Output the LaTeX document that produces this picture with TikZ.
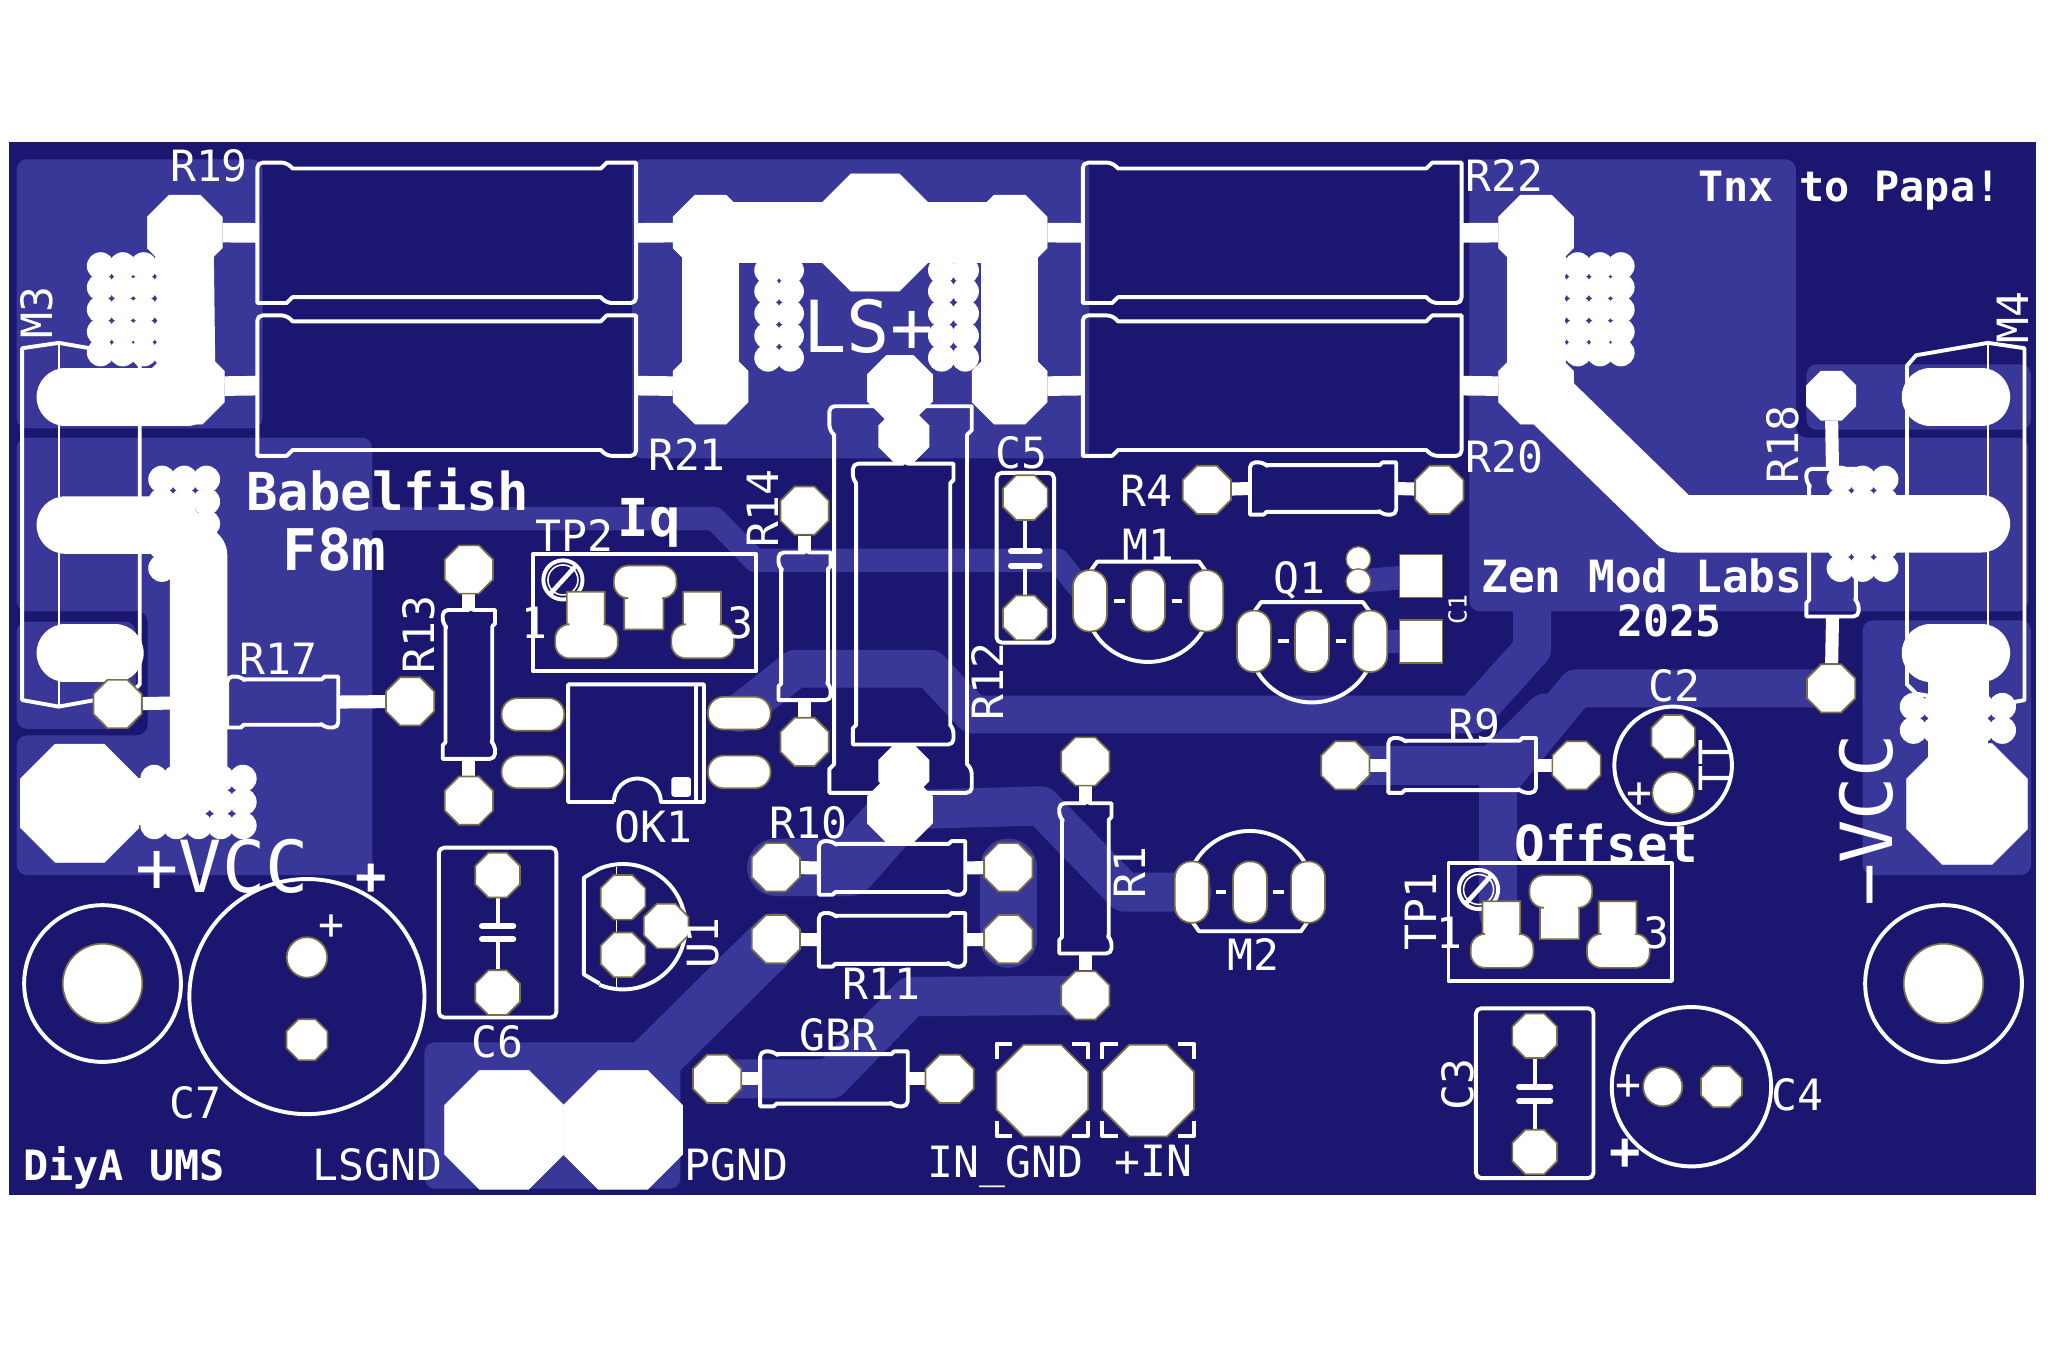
\documentclass[tikz,border=0pt]{standalone}
\usepackage{fontspec}
\setmainfont{DejaVu Sans Mono}
\usetikzlibrary{shapes.geometric}
\definecolor{brd}{RGB}{27,23,112}
\definecolor{cu}{RGB}{57,56,153}
\definecolor{padol}{RGB}{122,111,70}
\pgfdeclarelayer{board}
\pgfdeclarelayer{copper}
\pgfdeclarelayer{silklayer}
\pgfsetlayers{board,copper,silklayer,main}
\newcommand{\fsz}[1]{\fontsize{#1}{#1}\selectfont}
\tikzset{
	silk/.style={draw=white,line width=3pt,line join=round},
	thinsilk/.style={draw=white,line width=1.2pt},
	plate/.style={draw=white,line width=4.5pt,line cap=round},
	lead/.style={draw=white,line width=10pt},
	biglead/.style={draw=white,line width=15pt},
	wcu/.style={draw=white,line width=44pt,line join=round,line cap=round},
	trace/.style={draw=cu,line join=round,line cap=round},
	pad/.style={regular polygon,regular polygon sides=8,minimum size=#1,inner sep=0pt,fill=white,draw=padol,line width=1.3pt},
	pad/.default=40pt,
	wpad/.style={regular polygon,regular polygon sides=8,minimum size=#1,inner sep=0pt,fill=white,draw=white,line width=.5pt},
	wpad/.default=62pt,
	hole/.style={circle,minimum size=#1,inner sep=0pt,fill=white,draw=padol,line width=1.3pt},
	ovalv/.style={rectangle,rounded corners=12.5pt,minimum width=26pt,minimum height=47pt,inner sep=0pt,fill=white,draw=padol,line width=1.3pt},
	ovalh/.style={rectangle,rounded corners=12pt,minimum width=48pt,minimum height=25pt,inner sep=0pt,fill=white,draw=padol,line width=1.3pt},
	smd/.style={rectangle,minimum size=33pt,inner sep=0pt,fill=white,draw=padol,line width=1.3pt},
	lbl/.style={font=\fsz{33},text=white,inner sep=0pt},
	bigl/.style={font=\fsz{55},text=white,inner sep=0pt},
	boldl/.style={font=\fsz{#1}\bfseries,text=white,inner sep=0pt},
	boldl/.default=33
}
% resistor bodies: [cap]{name}{x1}{x2}{y1}{y2}
\newcommand{\hres}[6][12.6]{%
	\pgfmathsetmacro{\rins}{#1/6}
	\draw[silk] (#3,#5/2+#6/2) [rounded corners=4pt] -- (#3,#5) -- (#3+#1-\rins,#5) [sharp corners] -- (#3+#1,#5+\rins) -- (#4-#1,#5+\rins) -- (#4-#1+\rins,#5) -- (#4,#5)
		[rounded corners=4pt] -- (#4,#6) -- (#4-#1+\rins,#6) [sharp corners] -- (#4-#1,#6-\rins) -- (#3+#1,#6-\rins) -- (#3+#1-\rins,#6) -- (#3,#6) [rounded corners=4pt] -- (#3,#5/2+#6/2) [sharp corners] -- cycle;
	\coordinate (#2-l) at (#3,#5/2+#6/2);
	\coordinate (#2-r) at (#4,#5/2+#6/2);
}
\newcommand{\vres}[6][12.6]{%
	\pgfmathsetmacro{\rins}{#1/6}
	\draw[silk] (#3/2+#4/2,#5) [rounded corners=4pt] -- (#3,#5) -- (#3,#5+#1-\rins) [sharp corners] -- (#3+\rins,#5+#1) -- (#3+\rins,#6-#1) -- (#3,#6-#1+\rins) -- (#3,#6)
		[rounded corners=4pt] -- (#4,#6) -- (#4,#6-#1+\rins) [sharp corners] -- (#4-\rins,#6-#1) -- (#4-\rins,#5+#1) -- (#4,#5+#1-\rins) -- (#4,#5) [rounded corners=4pt] -- (#3/2+#4/2,#5) [sharp corners] -- cycle;
	\coordinate (#2-t) at (#3/2+#4/2,#5);
	\coordinate (#2-b) at (#3/2+#4/2,#6);
}
% three pin transistor: {name}{x}{y}{flip}
\newcommand{\tofet}[4]{%
	\node[ovalv] (#1a) at (#2-44.5,#3) {};
	\node[ovalv] (#1b) at (#2,#3) {};
	\node[ovalv] (#1c) at (#2+44.5,#3) {};
	\begin{pgfonlayer}{silklayer}
	\begin{scope}[shift={(#2,#3)},yscale=#4]
		\draw[silk] (-42,23) arc[start angle=210.8,end angle=329.2,radius=48.75pt];
		\draw[silk] (-44,-23) -- (-39,-30) -- (39,-30) -- (44,-23);
		\draw[silk] (-26,0) -- (-18,0);
		\draw[silk] (18,0) -- (26,0);
	\end{scope}
	\end{pgfonlayer}
}
% trimmer: {x}{y} of the box corner
\newcommand{\trimmer}[2]{%
	\begin{scope}[shift={(#1,#2)}]
		\draw[silk] (0,0) rectangle (171,90);
		\draw[silk] (23,20) circle[radius=15pt];
		\draw[thinsilk] (23,20) circle[radius=11.5pt];
		\draw[silk,line width=3.5pt] (13,31) -- (33,9);
		\foreach \px in {17,106}{
			\draw[fill=white,draw=padol,line width=1.3pt] (\px+9,29) -- (\px+38,29) -- (\px+38,54) [rounded corners=11pt] -- (\px+48,54) -- (\px+48,80) -- (\px,80) -- (\px,54) [sharp corners] -- (\px+9,54) -- cycle;
		}
		\draw[fill=white,draw=padol,line width=1.3pt] (70,58) -- (100,58) -- (100,34) [rounded corners=11pt] -- (110,34) -- (110,9) -- (62,9) -- (62,34) [sharp corners] -- (70,34) -- cycle;
	\end{scope}
}
\newcommand{\brk}[4]{%
	\draw[silk] (#1,#2+12) -- (#1,#2) -- (#1+12,#2);
	\draw[silk] (#3-12,#2) -- (#3,#2) -- (#3,#2+12);
	\draw[silk] (#1,#4-12) -- (#1,#4) -- (#1+12,#4);
	\draw[silk] (#3-12,#4) -- (#3,#4) -- (#3,#4-12);
}
\begin{document}
\begin{tikzpicture}[x=1pt,y=-1pt]
	\useasboundingbox (0,0) rectangle (1568,1045);
	\begin{pgfonlayer}{board}
		\fill[brd] (7,109) rectangle (1559,915);
	\end{pgfonlayer}
	%big pads
	\node[wpad] (r19a) at (141.5,178) {};
	\node[wpad] (r19b) at (544,178) {};
	\node[wpad] (r21a) at (143,296) {};
	\node[wpad] (r21b) at (544,296) {};
	\node[wpad] (r22a) at (773,178) {};
	\node[wpad] (r22b) at (1176,178) {};
	\node[wpad] (r20a) at (773,296) {};
	\node[wpad] (r20b) at (1176,296) {};
	\node[wpad=97pt] (lsp) at (670,178) {};
	\node[wpad=98pt] (vccp) at (61,615) {};
	\node[wpad=100pt] (vccn) at (1506,615.5) {};
	\node[wpad=98.5pt] (lsgnd) at (386,865) {};
	\node[wpad=98.5pt] (pgnd) at (477,865) {};
	\node[pad=76pt] (ingnd) at (798,835) {};
	\node[pad=76pt] (inp) at (879,835) {};
	%small pads
	\node[pad] (r17a) at (90,539) {};
	\node[pad] (r17b) at (314,537) {};
	\node[pad] (r13a) at (359,436) {};
	\node[pad] (r13b) at (359,613) {};
	\node[pad] (r14a) at (616,391) {};
	\node[pad] (r14b) at (616,568) {};
	\node[pad=53pt,draw=white] (r12a) at (689,297) {};
	\node[pad=41pt,draw=white] (r12c) at (692,334) {};
	\node[pad=41pt,draw=white] (r12d) at (692,590) {};
	\node[pad=53pt,draw=white] (r12b) at (689,620) {};
	\node[pad=37pt] (c5a) at (785,381) {};
	\node[pad=37pt] (c5b) at (785,473) {};
	\node[pad] (r4a) at (924,375) {};
	\node[pad] (r4b) at (1102,375) {};
	\node[pad] (r1a) at (831,583) {};
	\node[pad] (r1b) at (831,762) {};
	\node[pad] (r10a) at (594,664) {};
	\node[pad] (r10b) at (772,664) {};
	\node[pad] (r11a) at (594,719) {};
	\node[pad] (r11b) at (772,719) {};
	\node[pad] (gbra) at (549,826) {};
	\node[pad] (gbrb) at (727,826) {};
	\node[pad] (r9a) at (1030,586) {};
	\node[pad] (r9b) at (1207,586) {};
	\node[pad,draw=white] (r18a) at (1402,303) {};
	\node[pad] (r18b) at (1402,527) {};
	\node[pad=37pt] (c6a) at (381,670) {};
	\node[pad=37pt] (c6b) at (381,760) {};
	\node[pad=37pt] (c3a) at (1175,793) {};
	\node[pad=37pt] (c3b) at (1175,882) {};
	\node[pad=37pt] (u1a) at (477,687) {};
	\node[pad=37pt] (u1b) at (510,709) {};
	\node[pad=37pt] (u1c) at (477,731) {};
	\node[hole=31pt] (c7a) at (235,733) {};
	\node[pad=34pt] (c7b) at (235,796) {};
	\node[pad=36pt] (c2a) at (1281,564) {};
	\node[hole=32pt] (c2b) at (1281,607) {};
	\node[hole=30pt] (c4a) at (1273,832) {};
	\node[pad=34pt] (c4b) at (1318,832) {};
	\node[hole=61pt] (mhl) at (78.5,753) {};
	\node[hole=61pt] (mhr) at (1488,753) {};
	%OK1 and C1 pads
	\node[ovalh] (ok1a) at (408,547) {};
	\node[ovalh] (ok1b) at (408,591) {};
	\node[ovalh] (ok1c) at (566,546) {};
	\node[ovalh] (ok1d) at (566,591) {};
	\node[smd] (c1a) at (1088,441) {};
	\node[smd] (c1b) at (1088,491) {};
	\node[circle,minimum size=19pt,inner sep=0pt,fill=white,draw=padol,line width=1pt] (c1c) at (1040,428) {};
	\node[circle,minimum size=19pt,inner sep=0pt,fill=white,draw=padol,line width=1pt] (c1d) at (1040,445) {};
	\tofet{m1}{879}{460}{1}
	\tofet{q1}{1004.5}{491}{1}
	\tofet{m2}{957}{683}{-1}
	\begin{pgfonlayer}{copper}
		%pours
		\fill[cu,rounded corners=8pt] (12.7,122) rectangle (201,328);
		\fill[cu,rounded corners=8pt] (484,122) rectangle (834,351);
		\fill[cu,rounded corners=8pt] (1125,122) -- (1375,122) -- (1375,335) -- (1553,335) -- (1553,468) -- (1125,468) -- cycle;
		\fill[cu,rounded corners=8pt] (1383,279) rectangle (1555,329);
		\fill[cu,rounded corners=8pt] (12.7,335) -- (285,335) -- (285,670) -- (12.7,670) -- (12.7,563) -- (113,563) -- (113,468) -- (12.7,468) -- cycle;
		\fill[cu,rounded corners=8pt] (12.7,476) rectangle (104,558);
		\fill[cu,rounded corners=8pt] (1426,475) rectangle (1555,670);
		\fill[cu,rounded corners=8pt] (325,798) rectangle (521,910);
		%tracks
		\draw[trace,line width=18pt] (285,397) -- (547,397) -- (578,429) -- (810,429) -- (m1a.center);
		\draw[trace,line width=29pt] (1173,460) -- (1173,497) -- (1128,547) -- (745,547) -- (712,512) -- (609,512) -- (ok1c.center);
		\draw[trace,line width=30pt] (r12b.center) -- (797,617) -- (861,683) -- (m2a.center);
		\draw[trace,line width=44pt] (r10a.center) -- (650,664) -- (r12b.center);
		\draw[trace,line width=44pt] (r10b.center) -- (r11b.center);
		\draw[trace,line width=40pt] (r11a.center) -- (500,812);
		\draw[trace,line width=30pt] (gbra.center) -- (636,826) -- (697,763) -- (r1b.center);
		\draw[trace,line width=29pt] (r18b.center) -- (1207,527) -- (1147,600) -- (1147,700);
		\draw[trace,line width=30pt] (r9a.center) -- (1143,586) -- (1183,546);
		\draw[trace,line width=18pt] (c1d.center) -- (c1a.center);
		\draw[trace,line width=18pt] (q1c.center) -- (c1b.center);
	\end{pgfonlayer}
	\begin{pgfonlayer}{silklayer}
		%white copper
		\draw[wcu] (50,304) -- (143,304);
		\draw[wcu] (r19a.center) -- (r21a.center);
		\draw[wcu,line width=46pt] (r19b.center) -- (r22a.center);
		\draw[wcu] (r19b.center) -- (r21b.center);
		\draw[wcu] (r22a.center) -- (r20a.center);
		\draw[wcu] (r22b.center) -- (r20b.center);
		\draw[wcu] (r20b.center) -- (1284,401) -- (1517,401);
		\draw[wcu] (50,402) -- (130,402) -- (152,425) -- (152,592);
		\draw[wcu] (50,500) -- (88,500);
		\draw[wcu] (1478,500) -- (1517,500);
		\draw[wcu] (1478,304) -- (1517,304);
		\fill[white] (100,596) rectangle (150,632);
		\fill[white] (1476,485) rectangle (1522,590);
		\fill[white] (r12a.center) rectangle (r12c.center);
		%vias
		\foreach \x in {77,94,110,127} \foreach \y in {203.6,220,237,254,270} \fill[white] (\x,\y) circle[radius=10.5pt];
		\foreach \x in {1191,1208,1225,1241} \foreach \y in {203.6,220,237,254,270} \fill[white] (\x,\y) circle[radius=10.5pt];
		\foreach \x in {588,605,721,739} \foreach \y in {207,223,240,257,274} \fill[white] (\x,\y) circle[radius=10.5pt];
		\foreach \x in {124,141,158} \foreach \y in {367,384,401,418,435} \fill[white] (\x,\y) circle[radius=10.5pt];
		\foreach \x in {1409,1426,1443} \foreach \y in {367,384,401,418,435} \fill[white] (\x,\y) circle[radius=10.5pt];
		\foreach \x in {118,135,152,169,186} \foreach \y in {596,614,632} \fill[white] (\x,\y) circle[radius=10.5pt];
		\foreach \x in {1465,1482,1516,1533} \foreach \y in {541,559} \fill[white] (\x,\y) circle[radius=10.5pt];
		%big resistors
		\hres[27]{r19}{197}{487}{124.5}{232}
		\hres[27]{r21}{197}{487}{241.5}{349}
		\hres[27]{r22}{829}{1119}{124.5}{232}
		\hres[27]{r20}{829}{1119}{241.5}{349}
		\draw[biglead] (r19a) -- (r19-l);
		\draw[biglead] (r19b) -- (r19-r);
		\draw[biglead] (r21a) -- (r21-l);
		\draw[biglead] (r21b) -- (r21-r);
		\draw[biglead] (r22a) -- (r22-l);
		\draw[biglead] (r22b) -- (r22-r);
		\draw[biglead] (r20a) -- (r20-l);
		\draw[biglead] (r20b) -- (r20-r);
		%small resistors
		\hres{r17}{174}{259}{518}{557}
		\draw[lead] (r17a) -- (r17-l);
		\draw[lead] (r17b) -- (r17-r);
		\vres{r13}{339}{379}{467}{581}
		\draw[lead] (r13a) -- (r13-t);
		\draw[lead] (r13b) -- (r13-b);
		\vres{r14}{596}{636}{423}{536}
		\draw[lead] (r14a) -- (r14-t);
		\draw[lead] (r14b) -- (r14-b);
		\vres[22]{r12o}{635}{744}{311}{607}
		\vres[15]{r12}{653}{730}{355}{570}
		\draw[lead,line width=14pt] (r12c) -- (r12-t);
		\draw[lead,line width=14pt] (r12d) -- (r12-b);
		\hres{r4}{957}{1069}{354}{394}
		\draw[lead] (r4a) -- (r4-l);
		\draw[lead] (r4b) -- (r4-r);
		\vres{r1}{811}{851}{615}{730}
		\draw[lead] (r1a) -- (r1-t);
		\draw[lead] (r1b) -- (r1-b);
		\hres{r10}{627}{739}{644}{685}
		\draw[lead] (r10a) -- (r10-l);
		\draw[lead] (r10b) -- (r10-r);
		\hres{r11}{627}{739}{699}{740}
		\draw[lead] (r11a) -- (r11-l);
		\draw[lead] (r11b) -- (r11-r);
		\hres{gbr}{582}{695}{805}{847}
		\draw[lead] (gbra) -- (gbr-l);
		\draw[lead] (gbrb) -- (gbr-r);
		\hres{r9}{1063}{1176}{565}{607}
		\draw[lead] (r9a) -- (r9-l);
		\draw[lead] (r9b) -- (r9-r);
		\vres{r18}{1383}{1423}{359}{472}
		\draw[lead] (r18a) -- (r18-t);
		\draw[lead] (r18b) -- (r18-b);
		%capacitors
		\draw[silk,rounded corners=4pt] (763,362) rectangle (807,492);
		\draw[silk] (c5a) -- (785,422);
		\draw[silk] (c5b) -- (785,433);
		\draw[plate] (774,422) -- (796,422);
		\draw[plate] (774,433) -- (796,433);
		\draw[silk,rounded corners=4pt] (336,649) rectangle (426,779);
		\draw[silk] (c6a) -- (381,709);
		\draw[silk] (c6b) -- (381,719);
		\draw[plate] (369,709) -- (393,709);
		\draw[plate] (369,719) -- (393,719);
		\draw[silk,rounded corners=4pt] (1130,772) rectangle (1220,902);
		\draw[silk] (c3a) -- (1175,832);
		\draw[silk] (c3b) -- (1175,843);
		\draw[plate] (1163,832) -- (1187,832);
		\draw[plate] (1163,843) -- (1187,843);
		\draw[silk] (235,763) circle[radius=90pt];
		\draw[silk] (1281,586) circle[radius=45pt];
		\draw[silk] (1295,832) circle[radius=61pt];
		\draw[silk] (mhl) circle[radius=60pt];
		\draw[silk] (mhr) circle[radius=60pt];
		%U1 outline
		\draw[silk] (459,665) -- (447,672) -- (447,746) -- (459,753);
		\draw[silk] (459,665) arc[start angle=112,end angle=-112,radius=48pt];
		\draw[thinsilk] (472,664) -- (472,756);
		%OK1 outline
		\draw[silk] (470,614) -- (435,614) -- (435,524) -- (539,524) -- (539,614) -- (506,614) arc[start angle=0,end angle=180,radius=18pt];
		\draw[silk] (533,524) -- (533,614);
		\fill[white,rounded corners=2pt] (514,595) rectangle (529,610);
		%M3 and M4
		\draw[silk] (107,524) -- (107,280) -- (100,272) -- (45,262.5) -- (17,266.6) -- (17,536) -- (45,541) -- (100,531) -- cycle;
		\draw[thinsilk] (45,262.5) -- (45,541);
		\draw[silk] (1460,524) -- (1460,280) -- (1467,272) -- (1522,262.5) -- (1550,266.6) -- (1550,536) -- (1522,541) -- (1467,531) -- cycle;
		\draw[thinsilk] (1522,262.5) -- (1522,541);
		%input brackets
		\brk{763}{799}{833}{870}
		\brk{844}{799}{914}{870}
		\trimmer{408}{424}
		\trimmer{1109}{661}
	\end{pgfonlayer}
	%texts
	\node[lbl] (lr19) at (160,127) {R19};
	\node[lbl] (lr22) at (1152,134) {R22};
	\node[lbl] (lr21) at (526,348) {R21};
	\node[lbl] (lr20) at (1152,350) {R20};
	\node[lbl] (lr4) at (878,376) {R4};
	\node[lbl] (lm1) at (879,417) {M1};
	\node[lbl] (lq1) at (995,444) {Q1};
	\node[lbl] (lm2) at (960,731) {M2};
	\node[lbl] (lc5) at (782,347) {C5};
	\node[lbl,rotate=90] (lr14) at (584,389) {R14};
	\node[lbl,rotate=90] (lr12) at (756,522) {R12};
	\node[lbl,rotate=90] (lr13) at (321,486) {R13};
	\node[lbl] (lr17) at (213,504) {R17};
	\node[lbl] (ltp2) at (440,410) {TP2};
	\node[lbl] (ltp21) at (409,477) {1};
	\node[lbl] (ltp23) at (567,477) {3};
	\node[lbl] (lok1) at (500,633) {OK1};
	\node[lbl] (lr10) at (619,630) {R10};
	\node[lbl] (lr11) at (675,753) {R11};
	\node[lbl] (lgbr) at (642,792) {GBR};
	\node[lbl] (lr9) at (1129,555) {R9};
	\node[lbl] (lc2) at (1282,525) {C2};
	\node[lbl,rotate=90] (ltt) at (1313,586) {TT};
	\node[lbl] (lc2p) at (1255,609) {+};
	\node[lbl,rotate=90] (lr1) at (865,668) {R1};
	\node[lbl,rotate=90,font=\fsz{19}] (lc1) at (1116,467) {C1};
	\node[lbl,rotate=90] (lm3) at (28,239) {M3};
	\node[lbl,rotate=90] (lm4) at (1541,243) {M4};
	\node[lbl,rotate=90] (lr18) at (1365,340) {R18};
	\node[lbl] (lc6) at (381,798) {C6};
	\node[lbl,rotate=90] (lc3) at (1116,830) {C3};
	\node[lbl] (lc4) at (1376,838) {C4};
	\node[lbl] (lc4p) at (1247,832) {+};
	\node[lbl] (lc7) at (150,844) {C7};
	\node[lbl] (lc7p) at (254,710) {+};
	\node[lbl,rotate=90] (lu1) at (538,722) {U1};
	\node[lbl,rotate=90] (ltp1) at (1088,698) {TP1};
	\node[lbl] (ltp11) at (1110,714) {1};
	\node[lbl] (ltp13) at (1268,714) {3};
	\node[lbl] (llsgnd) at (289,892) {LSGND};
	\node[lbl] (lpgnd) at (564,892) {PGND};
	\node[lbl] (lingnd) at (770,893) {IN\_GND};
	\node[lbl] (linp) at (883,889) {+IN};
	\node[bigl] (lvccp) at (170,663) {+VCC};
	\node[bigl,rotate=90] (lvccn) at (1429,628) {−VCC};
	\node[bigl] (llsp) at (665,250) {LS+};
	\node[boldl=40] (lplus) at (284,673) {+};
	\node[boldl=40] (lplus2) at (1244,884) {+};
	\node[boldl=40] (lbabel) at (297,375) {Babelfish};
	\node[boldl=44] (lf8m) at (256,421) {F8m};
	\node[boldl=40] (liq) at (497,400) {Iq};
	\node[boldl=39] (loffset) at (1230,646) {Offset};
	\node[boldl=32] (ldiya) at (95,894) {DiyA UMS};
	\node[boldl=32] (ltnx) at (1416,146) {Tnx to Papa!};
	\node[boldl=34] (lzen) at (1257,441) {Zen Mod Labs};
	\node[boldl=33] (l2025) at (1278,475) {2025};
\end{tikzpicture}
\end{document}
